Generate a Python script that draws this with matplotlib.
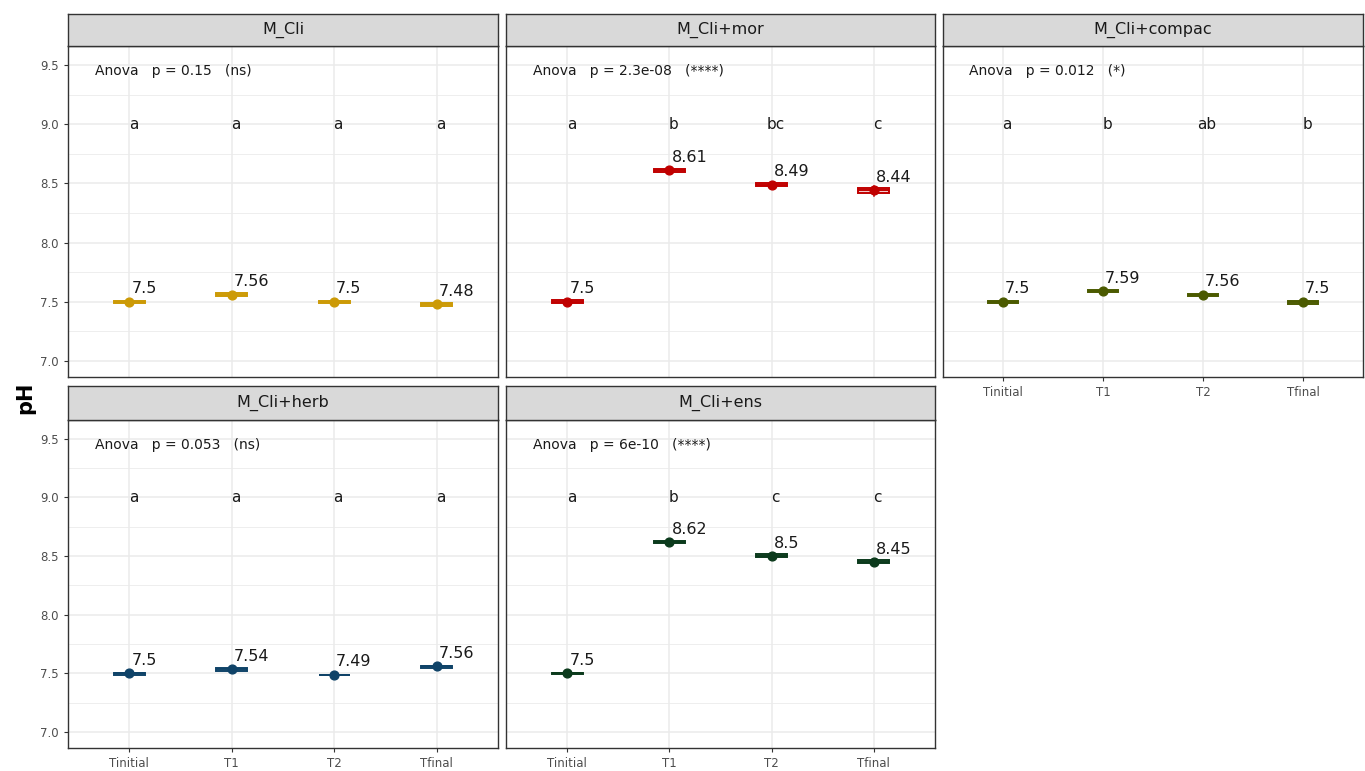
import numpy as np
import matplotlib.pyplot as plt

times = ['Tinitial', 'T1', 'T2', 'Tfinal']
panels = ['M_Cli', 'M_Cli+mor', 'M_Cli+compac', 'M_Cli+herb', 'M_Cli+ens']
colors = ['#CC9A06', '#C00000', '#4B5A00', '#0F4368', '#0B3A1C']

means = [[7.5, 7.56, 7.5, 7.48],
         [7.5, 8.61, 8.49, 8.44],
         [7.5, 7.59, 7.56, 7.5],
         [7.5, 7.54, 7.49, 7.56],
         [7.5, 8.62, 8.5, 8.45]]
q1 = [[7.488, 7.548, 7.492, 7.468],
      [7.488, 8.598, 8.478, 8.415],
      [7.488, 7.585, 7.553, 7.482],
      [7.49, 7.518, 7.485, 7.548],
      [7.493, 8.613, 8.49, 8.442]]
q3 = [[7.51, 7.572, 7.508, 7.49],
      [7.512, 8.622, 8.502, 8.46],
      [7.51, 7.596, 7.565, 7.508],
      [7.508, 7.548, 7.49, 7.568],
      [7.507, 8.625, 8.515, 8.468]]
wlo = [[7.488, 7.548, 7.492, 7.455],
       [7.488, 8.598, 8.478, 8.395],
       [7.488, 7.585, 7.553, 7.482],
       [7.49, 7.518, 7.485, 7.548],
       [7.493, 8.613, 8.49, 8.442]]
whi = [[7.51, 7.572, 7.508, 7.49],
       [7.512, 8.622, 8.502, 8.475],
       [7.51, 7.596, 7.565, 7.508],
       [7.508, 7.548, 7.49, 7.568],
       [7.507, 8.625, 8.515, 8.468]]
letters = [['a', 'a', 'a', 'a'],
           ['a', 'b', 'bc', 'c'],
           ['a', 'b', 'ab', 'b'],
           ['a', 'a', 'a', 'a'],
           ['a', 'b', 'c', 'c']]
anova = ['Anova   p = 0.15   (ns)',
         'Anova   p = 2.3e-08   (****)',
         'Anova   p = 0.012   (*)',
         'Anova   p = 0.053   (ns)',
         'Anova   p = 6e-10   (****)']

W, H = 1365, 771
fig = plt.figure(figsize=(W / 100, H / 100), dpi=100)

# panel boxes in pixels: x0, x1, y0 (top), y1 (bottom), strip top
boxes = [(68, 498, 46, 377, 14), (506, 935, 46, 377, 14), (943, 1363, 46, 377, 14),
         (68, 498, 420, 748, 386), (506, 935, 420, 748, 386)]
show_y = [True, False, False, True, False]
show_x = [False, False, True, True, True]

for i, (x0, x1, y0, y1, ys) in enumerate(boxes):
    ax = fig.add_axes([x0 / W, 1 - y1 / H, (x1 - x0) / W, (y1 - y0) / H])
    sa = fig.add_axes([x0 / W, 1 - y0 / H, (x1 - x0) / W, (y0 - ys) / H])
    sa.set_facecolor('#D9D9D9')
    sa.set_xticks([])
    sa.set_yticks([])
    for s in sa.spines.values():
        s.set_color('#333333')
        s.set_linewidth(1.0)
    sa.text(0.5, 0.5, panels[i], ha='center', va='center', fontsize=11.5, color='#1A1A1A')

    c = colors[i]
    pos = np.arange(1, 5)
    stats = []
    for j in range(4):
        stats.append(dict(med=means[i][j], q1=q1[i][j], q3=q3[i][j],
                          whislo=wlo[i][j], whishi=whi[i][j], fliers=[]))
    ax.bxp(stats, positions=pos, widths=0.3, patch_artist=True, showfliers=False,
           boxprops=dict(facecolor=c + '33', edgecolor=c, linewidth=1.4),
           medianprops=dict(color=c, linewidth=1.4),
           whiskerprops=dict(color=c, linewidth=1.1),
           capprops=dict(linewidth=0), zorder=3)
    ax.scatter(pos, means[i], s=40, color=c, zorder=4)
    for j in range(4):
        ax.text(pos[j] + 0.02, means[i][j] + 0.045, str(means[i][j]), ha='left', va='bottom',
                fontsize=11.5, color='#1A1A1A', zorder=5)
        ax.text(pos[j] + 0.04, 9.0, letters[i][j], ha='center', va='center',
                fontsize=11, color='#1A1A1A')
    ax.text(0.66, 9.45, anova[i], ha='left', va='center', fontsize=10, color='#1A1A1A')

    ax.set_xlim(0.4, 4.6)
    ax.set_ylim(6.865, 9.66)
    ax.set_yticks([7.0, 7.5, 8.0, 8.5, 9.0, 9.5])
    ax.set_yticks([7.25, 7.75, 8.25, 8.75, 9.25], minor=True)
    ax.set_xticks(pos)
    ax.set_xticklabels(times)
    ax.grid(True, which='major', color='#EBEBEB', linewidth=1.1, zorder=0)
    ax.grid(True, which='minor', axis='y', color='#EBEBEB', linewidth=0.6, zorder=0)
    ax.set_axisbelow(True)
    ax.tick_params(axis='both', which='minor', length=0)
    ax.tick_params(axis='both', which='major', color='#333333', length=3,
                   labelsize=8.5, labelcolor='#4D4D4D')
    if not show_y[i]:
        ax.tick_params(axis='y', which='major', length=0, labelleft=False)
    if not show_x[i]:
        ax.tick_params(axis='x', which='major', length=0, labelbottom=False)
    for s in ax.spines.values():
        s.set_color('#333333')
        s.set_linewidth(1.0)

fig.text(25 / W, 1 - 398 / H, 'pH', rotation=90, ha='center', va='center',
         fontsize=15, fontweight='bold')

fig.savefig('out.png', dpi=100)
